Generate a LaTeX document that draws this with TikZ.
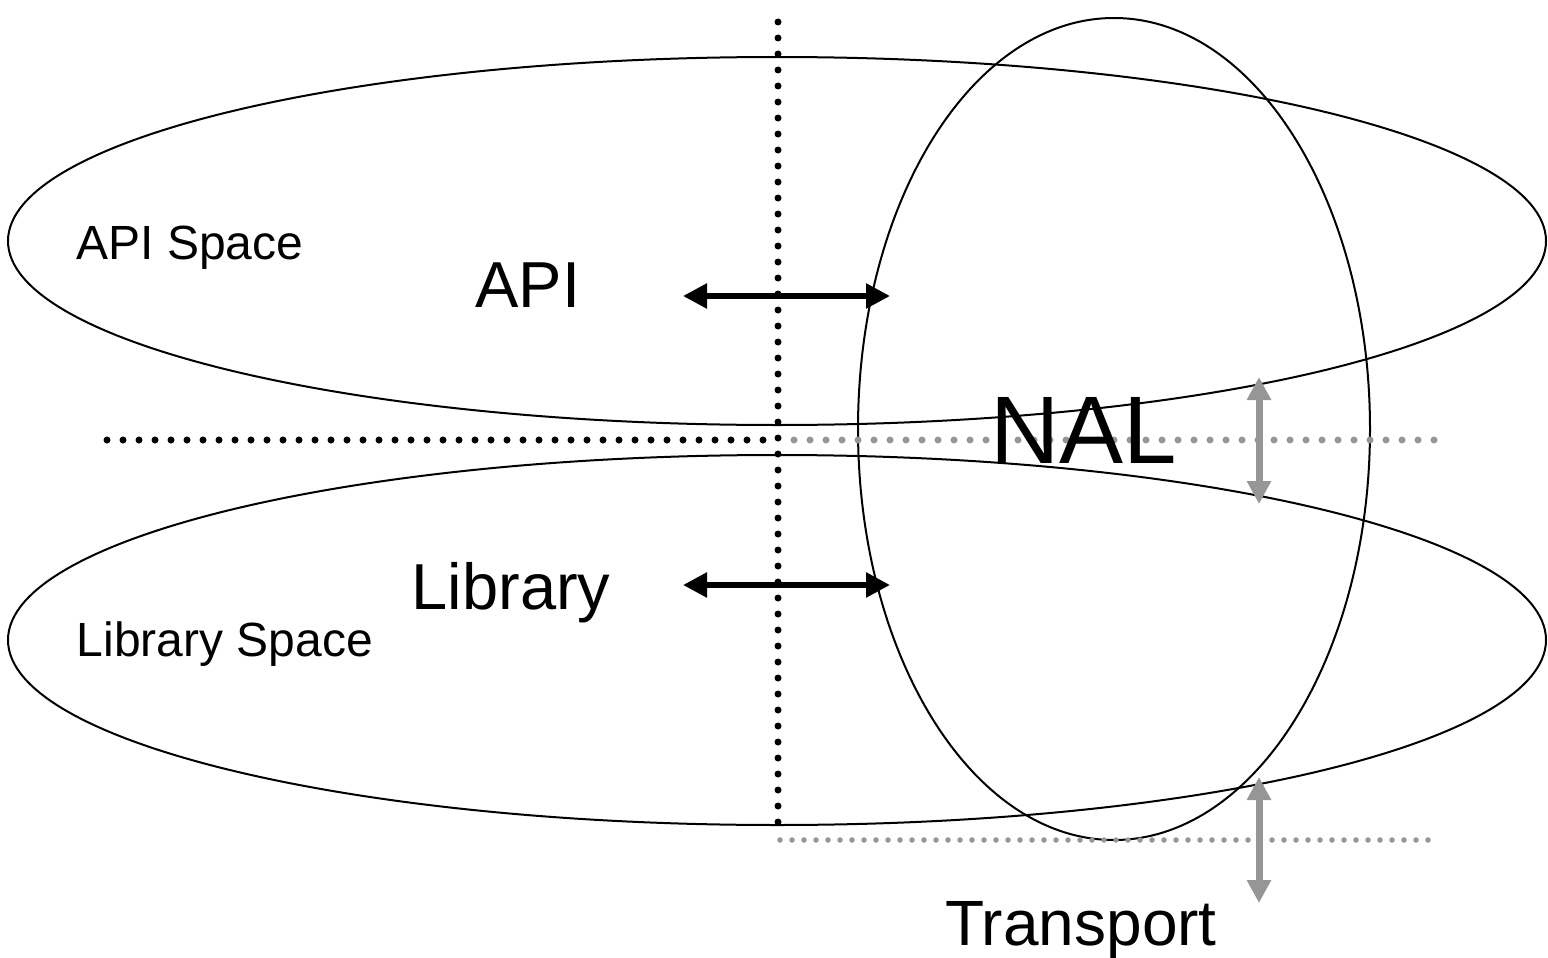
\documentclass[tikz,border=0pt]{standalone}
\usepackage{fontspec}
\setmainfont{Liberation Sans}
\usetikzlibrary{arrows.meta}
\definecolor{dotgray}{RGB}{150,150,150}
\tikzset{
  space/.style={draw=black, line width=2pt},
  dotline/.style={line width=7pt, line cap=round, dash pattern=on 0pt off 16pt},
  finedots/.style={line width=5.5pt, line cap=round, dash pattern=on 0pt off 12pt, dotgray},
  blackarrow/.style={line width=5.5pt, {Triangle[length=24pt,width=24pt]}-{Triangle[length=24pt,width=24pt]}},
  grayarrow/.style={line width=7pt, dotgray, {Triangle[length=23pt,width=23pt]}-{Triangle[length=23pt,width=23pt]}},
  lbl/.style={inner sep=0pt, anchor=base}
}
\begin{document}
\begin{tikzpicture}[x=1pt, y=-1pt]
\useasboundingbox (0,0) rectangle (1548,958);
% the two layers and the NAL column
\draw[space] (777,241) ellipse [x radius=769pt, y radius=184pt];
\draw[space] (777,640) ellipse [x radius=769pt, y radius=185pt];
\draw[space] (1114,429) ellipse [x radius=256pt, y radius=411pt];
% dotted boundaries
\coordinate (vtop) at (778,22);
\coordinate (vbot) at (778,828);
\coordinate (hleft) at (107,440);
\coordinate (hmid) at (778,440);
\coordinate (hright) at (1435,440);
\coordinate (bleft) at (780,840);
\coordinate (bright) at (1435,840);
\draw[dotline] (hleft) -- (hmid);
\draw[dotline, dotgray] ([xshift=16pt]hmid) -- (hright);
\draw[dotline] (vtop) -- (vbot);
\draw[finedots] (bleft) -- (bright);
% arrows
\coordinate (a1) at (683,296);
\coordinate (a2) at (890,296);
\coordinate (l1) at (683,585);
\coordinate (l2) at (890,585);
\coordinate (g1) at (1259,377);
\coordinate (g2) at (1259,504);
\coordinate (t1) at (1259,777);
\coordinate (t2) at (1259,903);
\draw[blackarrow] (a1) -- (a2);
\draw[blackarrow] (l1) -- (l2);
\draw[grayarrow] (g1) -- (g2);
\draw[grayarrow] (t1) -- (t2);
% labels
\node[lbl, font=\fontsize{48}{50}\selectfont] (apispace) at (190,259) {API Space};
\node[lbl, font=\fontsize{65}{70}\selectfont] (api) at (528,307) {API};
\node[lbl, font=\fontsize{65}{70}\selectfont] (lib) at (511,609) {Library};
\node[lbl, font=\fontsize{48}{50}\selectfont] (libspace) at (225,656) {Library Space};
\node[lbl, font=\fontsize{96}{100}\selectfont] (nal) at (1084,463) {NAL};
\node[lbl, font=\fontsize{64}{70}\selectfont] (transport) at (1081,945) {Transport};
\end{tikzpicture}
\end{document}
